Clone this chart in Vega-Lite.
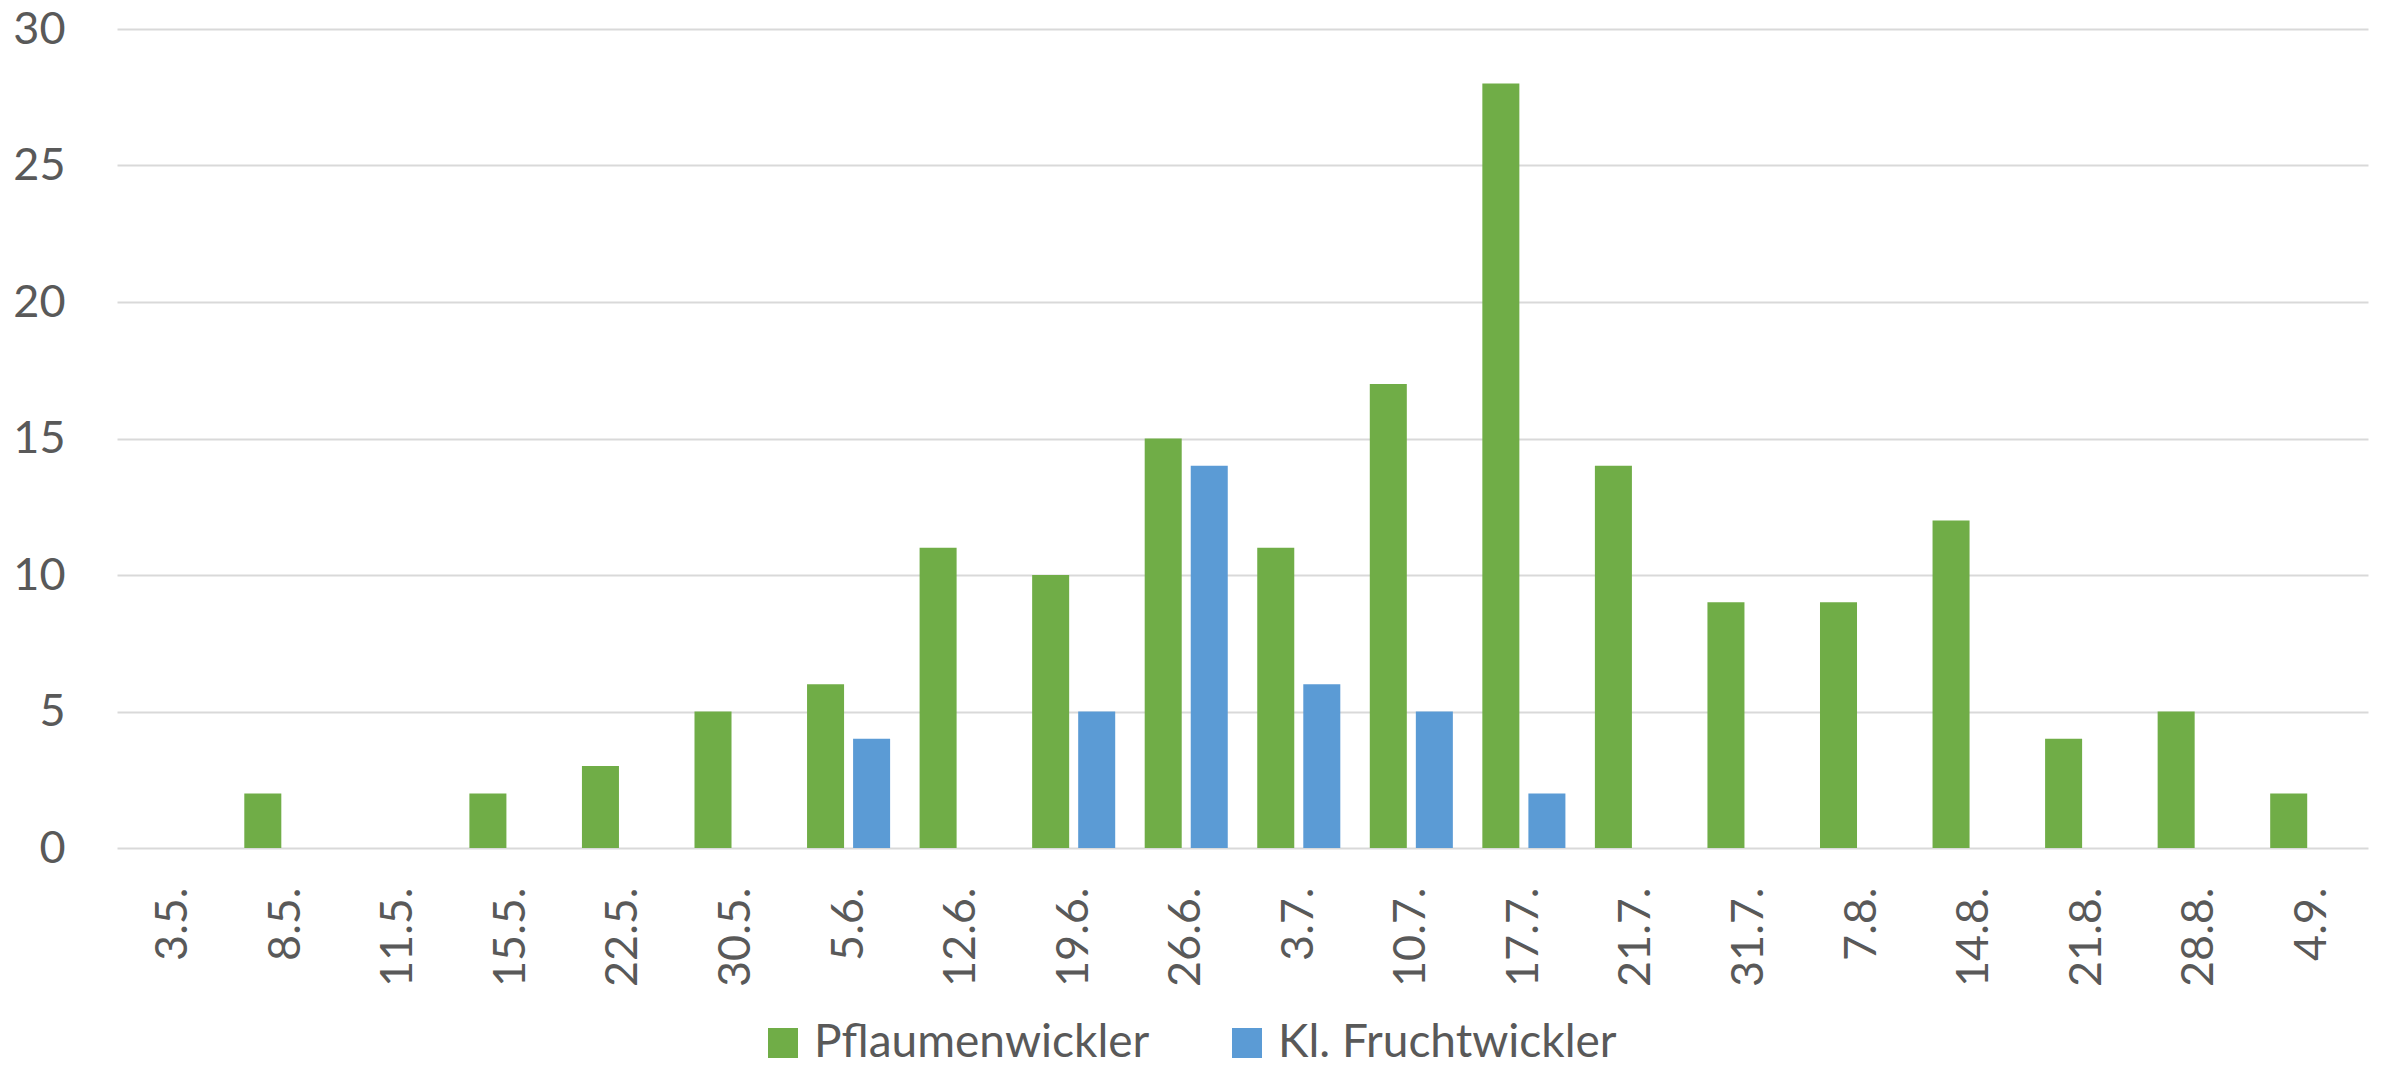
{
  "$schema": "https://vega.github.io/schema/vega-lite/v6.json",
  "width": 2251,
  "height": 819,
  "autosize": {"type": "none"},
  "padding": {"left": 117, "top": 29, "right": 16, "bottom": 221},
  "background": "white",
  "config": {"view": {"stroke": null}, "font": "Lato"},
  "data": {
    "values": [
      {"date": "8.5.", "series": "Pflaumenwickler", "count": 2},
      {"date": "15.5.", "series": "Pflaumenwickler", "count": 2},
      {"date": "22.5.", "series": "Pflaumenwickler", "count": 3},
      {"date": "30.5.", "series": "Pflaumenwickler", "count": 5},
      {"date": "5.6.", "series": "Pflaumenwickler", "count": 6},
      {"date": "12.6.", "series": "Pflaumenwickler", "count": 11},
      {"date": "19.6.", "series": "Pflaumenwickler", "count": 10},
      {"date": "26.6.", "series": "Pflaumenwickler", "count": 15},
      {"date": "3.7.", "series": "Pflaumenwickler", "count": 11},
      {"date": "10.7.", "series": "Pflaumenwickler", "count": 17},
      {"date": "17.7.", "series": "Pflaumenwickler", "count": 28},
      {"date": "21.7.", "series": "Pflaumenwickler", "count": 14},
      {"date": "31.7.", "series": "Pflaumenwickler", "count": 9},
      {"date": "7.8.", "series": "Pflaumenwickler", "count": 9},
      {"date": "14.8.", "series": "Pflaumenwickler", "count": 12},
      {"date": "21.8.", "series": "Pflaumenwickler", "count": 4},
      {"date": "28.8.", "series": "Pflaumenwickler", "count": 5},
      {"date": "4.9.", "series": "Pflaumenwickler", "count": 2},
      {"date": "5.6.", "series": "Kl. Fruchtwickler", "count": 4},
      {"date": "19.6.", "series": "Kl. Fruchtwickler", "count": 5},
      {"date": "26.6.", "series": "Kl. Fruchtwickler", "count": 14},
      {"date": "3.7.", "series": "Kl. Fruchtwickler", "count": 6},
      {"date": "10.7.", "series": "Kl. Fruchtwickler", "count": 5},
      {"date": "17.7.", "series": "Kl. Fruchtwickler", "count": 2}
    ]
  },
  "mark": {"type": "bar"},
  "encoding": {
    "x": {
      "field": "date",
      "type": "nominal",
      "sort": null,
      "title": null,
      "scale": {
        "domain": ["3.5.", "8.5.", "11.5.", "15.5.", "22.5.", "30.5.", "5.6.", "12.6.", "19.6.", "26.6.", "3.7.", "10.7.", "17.7.", "21.7.", "31.7.", "7.8.", "14.8.", "21.8.", "28.8.", "4.9."],
        "paddingInner": 0.262,
        "paddingOuter": 0.131
      },
      "axis": {
        "domain": false,
        "ticks": false,
        "labelAngle": -90,
        "labelPadding": 39,
        "labelFontSize": 45,
        "labelColor": "#595959",
        "labelFont": "Lato"
      }
    },
    "xOffset": {
      "field": "series",
      "scale": {"domain": ["Pflaumenwickler", "Kl. Fruchtwickler"], "paddingInner": 0.196, "paddingOuter": 0}
    },
    "y": {
      "field": "count",
      "type": "quantitative",
      "title": null,
      "scale": {"domain": [0, 30]},
      "axis": {
        "values": [0, 5, 10, 15, 20, 25, 30],
        "domain": false,
        "ticks": false,
        "grid": true,
        "gridColor": "#D9D9D9",
        "gridWidth": 2,
        "labelPadding": 52,
        "labelFontSize": 45,
        "labelColor": "#595959",
        "labelFont": "Lato"
      }
    },
    "color": {
      "field": "series",
      "type": "nominal",
      "title": null,
      "scale": {"domain": ["Pflaumenwickler", "Kl. Fruchtwickler"], "range": ["#70AD47", "#5B9BD5"]},
      "legend": {
        "orient": "none",
        "direction": "horizontal",
        "legendX": 643,
        "legendY": 991,
        "symbolType": "square",
        "symbolSize": 900,
        "symbolStrokeWidth": 0,
        "labelFontSize": 46,
        "labelLimit": 1000,
        "labelColor": "#595959",
        "labelFont": "Lato",
        "labelOffset": 8,
        "columnPadding": 74
      }
    }
  }
}
